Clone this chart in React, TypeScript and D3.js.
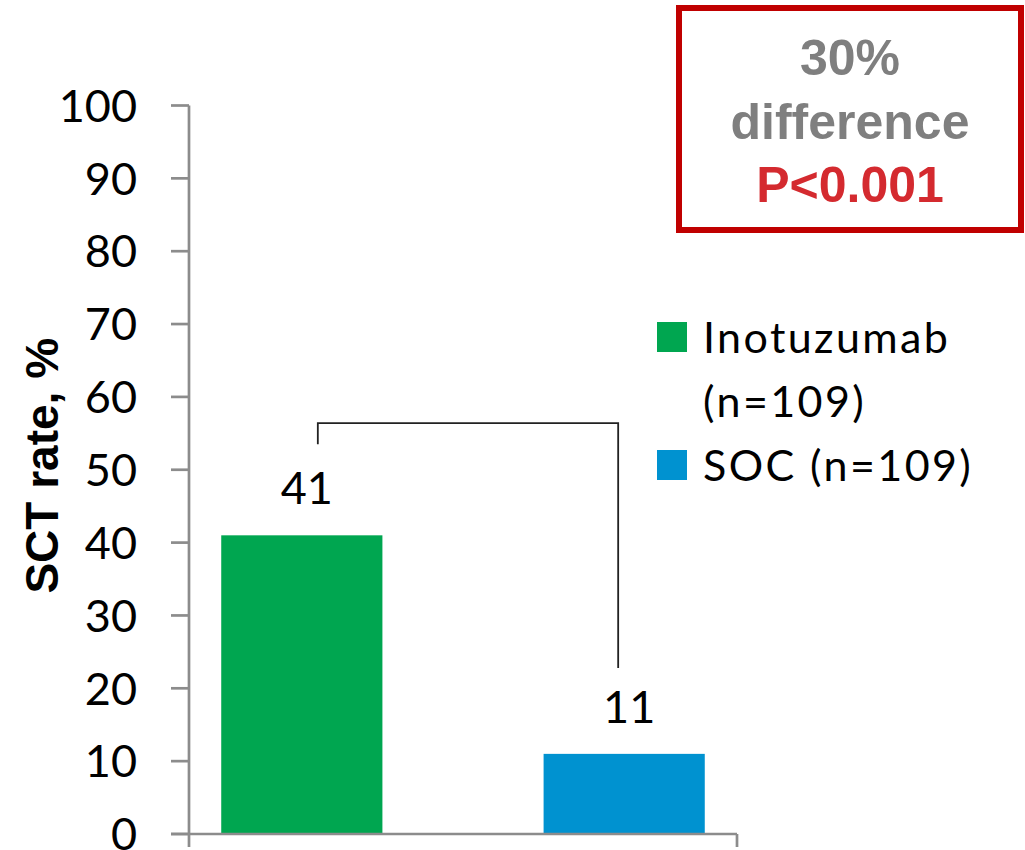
import React from "react";
import * as d3 from "d3";

const series = ["Inotuzumab (n=109)", "SOC (n=109)"];
const legendLines = [["Inotuzumab", "(n=109)"], ["SOC (n=109)"]];
const values = [41, 11];
const colors = ["#00A650", "#0092D0"];
const yTicks = [0, 10, 20, 30, 40, 50, 60, 70, 80, 90, 100];
const category = ["SCT"];
const boxLines = ["30%", "difference", "P<0.001"];
const yTitle = "SCT rate, %";

export default function App() {
  const W = 1025, H = 850;
  const x0 = 189, x1 = 737, yTop = 105.5, yBot = 834;
  const y = d3.scaleLinear().domain([0, 100]).range([yBot, yTop]);
  const xc = d3.scaleBand().domain(category).range([x0, x1]).padding(0);
  const xs = d3.scaleBand().domain(series).range([0, xc.bandwidth()]).paddingInner(0.5).paddingOuter(0.1);
  const axisColor = "#8C8C8C";
  const numFont = "Lato, 'Open Sans', sans-serif";
  const barX = (i: number) => (xc(category[0]) as number) + (xs(series[i]) as number);
  const cx = (i: number) => barX(i) + xs.bandwidth() / 2;
  const bracketY = y(56.4);
  return (
    <svg width={W} height={H} style={{ position: "absolute", left: 0, top: 0, background: "#fff" }}>
      {/* bars */}
      {values.map((v, i) => (
        <rect key={i} x={barX(i)} y={y(v)} width={xs.bandwidth()} height={y(0) - y(v)} fill={colors[i]} />
      ))}
      {/* value labels */}
      {values.map((v, i) => (
        <text key={"l" + i} x={cx(i) + 5} y={y(v) - 31} textAnchor="middle" fontFamily={numFont} fontSize={45} fill="#000">
          {v}
        </text>
      ))}
      {/* y axis */}
      <line x1={x0} x2={x0} y1={yTop} y2={yBot + 13} stroke={axisColor} strokeWidth={2.7} />
      {yTicks.map((t) => (
        <g key={t}>
          <line x1={x0 - 18} x2={x0} y1={y(t)} y2={y(t)} stroke={axisColor} strokeWidth={2.7} />
          <text x={137} y={y(t)} dy="0.36em" textAnchor="end" fontFamily={numFont} fontSize={45} fill="#000">
            {t}
          </text>
        </g>
      ))}
      {/* x axis */}
      <line x1={x0 - 18} x2={x1} y1={yBot} y2={yBot} stroke={axisColor} strokeWidth={2.7} />
      <line x1={x1} x2={x1} y1={yBot} y2={yBot + 13} stroke={axisColor} strokeWidth={2.7} />
      {/* y title */}
      <text transform={`translate(58,${(yTop + yBot) / 2 - 4}) rotate(-90)`} textAnchor="middle" fontFamily="'Liberation Sans', Arial, sans-serif" fontWeight="bold" fontSize={46} fill="#000">
        {yTitle}
      </text>
      {/* bracket */}
      <path d={`M${cx(0) + 16},${bracketY + 21} V${bracketY} H${cx(1) - 6} V${y(22.8)}`} fill="none" stroke="#222" strokeWidth={1.8} />
      {/* legend */}
      {colors.map((c, i) => (
        <rect key={"sw" + i} x={657} y={i === 0 ? 322 : 450} width={30} height={30} fill={c} />
      ))}
      {legendLines.map((lines, i) =>
        lines.map((ln, j) => (
          <text key={`lg${i}-${j}`} x={703} y={(i === 0 ? 353 : 481) + j * 64} fontFamily={numFont} fontSize={43} letterSpacing={2.4} fill="#000">
            {ln}
          </text>
        ))
      )}
      {/* annotation box */}
      <rect x={679} y={8} width={342} height={222} fill="#fff" stroke="#C00000" strokeWidth={6} />
      {boxLines.map((t, i) => (
        <text key={"b" + i} x={850} y={75 + i * 63.5} textAnchor="middle" fontFamily="'Liberation Sans', Arial, sans-serif" fontWeight="bold" fontSize={50} fill={i === 2 ? "#D42A2F" : "#7F7F7F"}>
          {t}
        </text>
      ))}
    </svg>
  );
}
